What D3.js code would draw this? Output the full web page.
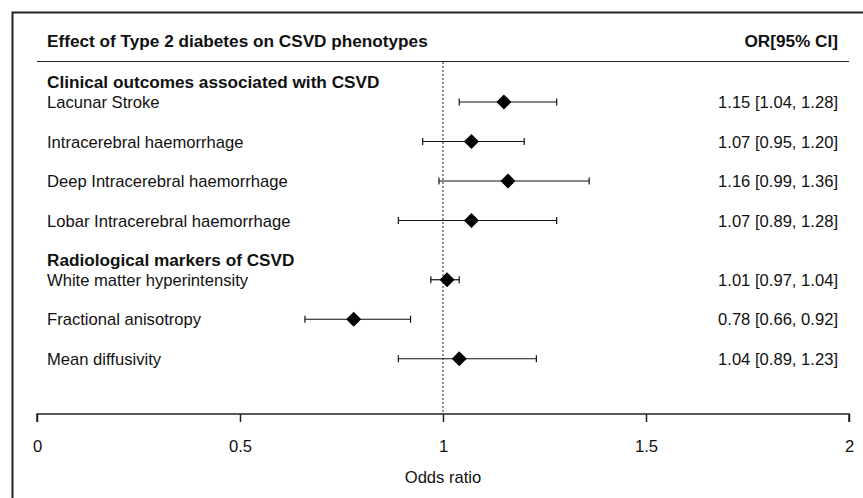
<!DOCTYPE html>
<html>
<head>
<meta charset="utf-8">
<script src="https://cdn.jsdelivr.net/npm/d3@7"></script>
<style>
  body { margin: 0; background: #fff; }
  svg { display: block; }
  text { font-family: "Liberation Sans", Arial, sans-serif; fill: #111; }
</style>
</head>
<body>
<div id="chart"></div>
<script>
// data
let labels = ['Lacunar Stroke', 'Intracerebral haemorrhage', 'Deep Intracerebral haemorrhage',
              'Lobar Intracerebral haemorrhage', 'White matter hyperintensity',
              'Fractional anisotropy', 'Mean diffusivity'];
let rowPos = [0, 1, 2, 3, 4.5, 5.5, 6.5];
let orVal = [1.15, 1.07, 1.16, 1.07, 1.01, 0.78, 1.04];
let ciLow = [1.04, 0.95, 0.99, 0.89, 0.97, 0.66, 0.89];
let ciHigh = [1.28, 1.20, 1.36, 1.28, 1.04, 0.92, 1.23];
let groupNames = ['Clinical outcomes associated with CSVD', 'Radiological markers of CSVD'];
let groupPos = [-0.5, 4];
let xTicks = [0, 0.5, 1, 1.5, 2];

let W = 863, H = 498;
let fsReg = '16.6px', fsBold = '17.2px';
let svg = d3.select('#chart').append('svg').attr('width', W).attr('height', H);

let x = d3.scaleLinear().domain([0, 2]).range([37, 849]);
let y = d3.scaleLinear().domain([0, 1]).range([102, 141.5]);

// frame (left + top)
svg.append('path').attr('d', 'M12.5,498 V12.5 H863')
    .attr('fill', 'none').attr('stroke', '#222').attr('stroke-width', 2);

// header
svg.append('text').attr('x', 47).attr('y', 47)
    .style('font-size', fsBold).style('font-weight', 'bold')
    .text('Effect of Type 2 diabetes on CSVD phenotypes');
svg.append('text').attr('x', 838).attr('y', 47).attr('text-anchor', 'end')
    .style('font-size', fsBold).style('font-weight', 'bold')
    .text('OR[95% CI]');
svg.append('line').attr('x1', 37).attr('x2', 849).attr('y1', 61.5).attr('y2', 61.5)
    .attr('stroke', '#222').attr('stroke-width', 1.2);

// reference line at OR = 1
svg.append('line').attr('x1', x(1)).attr('x2', x(1)).attr('y1', 62).attr('y2', 414)
    .attr('stroke', '#222').attr('stroke-dasharray', '2,2');

// group headings
svg.selectAll('.grp').data(groupNames).enter().append('text')
    .attr('x', 47).attr('y', (d, i) => y(groupPos[i]) + 5.5)
    .style('font-size', fsBold).style('font-weight', 'bold')
    .text(d => d);

let rows = svg.selectAll('.row').data(labels).enter().append('g')
    .attr('transform', (d, i) => 'translate(0,' + y(rowPos[i]) + ')');

rows.append('text').attr('x', 47).attr('y', 6)
    .style('font-size', fsReg).text(d => d);

rows.append('text').attr('x', 838).attr('y', 6).attr('text-anchor', 'end')
    .style('font-size', fsReg)
    .text((d, i) => orVal[i].toFixed(2) + ' [' + ciLow[i].toFixed(2) + ', ' + ciHigh[i].toFixed(2) + ']');

rows.append('line')
    .attr('x1', (d, i) => x(ciLow[i])).attr('x2', (d, i) => x(ciHigh[i]))
    .attr('y1', 0).attr('y2', 0).attr('stroke', '#111').attr('stroke-width', 1.2);
rows.append('line')
    .attr('x1', (d, i) => x(ciLow[i])).attr('x2', (d, i) => x(ciLow[i]))
    .attr('y1', -3.5).attr('y2', 3.5).attr('stroke', '#111').attr('stroke-width', 1.2);
rows.append('line')
    .attr('x1', (d, i) => x(ciHigh[i])).attr('x2', (d, i) => x(ciHigh[i]))
    .attr('y1', -3.5).attr('y2', 3.5).attr('stroke', '#111').attr('stroke-width', 1.2);
rows.append('path')
    .attr('d', (d, i) => {
        let cx = x(orVal[i]);
        return 'M' + (cx - 7.5) + ',0 L' + cx + ',-7.5 L' + (cx + 7.5) + ',0 L' + cx + ',7.5 Z';
    })
    .attr('fill', '#000');

// x axis
let axis = svg.append('g').attr('transform', 'translate(0,414)')
    .call(d3.axisBottom(x).tickValues(xTicks).tickSize(8).tickPadding(18)
        .tickFormat(d => d3.format('')(d)));
axis.select('.domain').attr('stroke', '#222').attr('stroke-width', 1.5)
    .attr('d', 'M' + x(0) + ',8V0H' + x(2) + 'V8');
axis.selectAll('.tick line').attr('stroke', '#222').attr('stroke-width', 1.5);
axis.selectAll('.tick text').style('font-size', fsReg)
    .style('font-family', '"Liberation Sans", Arial, sans-serif').attr('fill', '#111');

svg.append('text').attr('x', x(1)).attr('y', 483).attr('text-anchor', 'middle')
    .style('font-size', fsReg).text('Odds ratio');
</script>
</body>
</html>
